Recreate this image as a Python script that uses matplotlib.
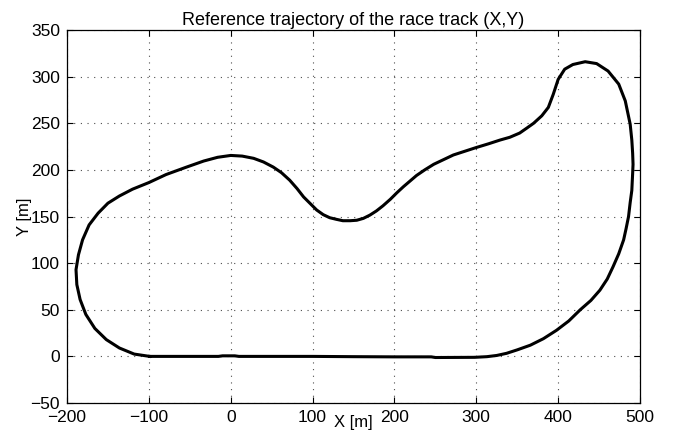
"""Reference trajectory of the race track, drawn in the MATLAB look."""

import matplotlib
matplotlib.use("Agg")
from matplotlib import pyplot as plt

# Track centre line, starting on the bottom straight.
# Ten points per row, same rows in both lists.
track_x = [-99, -60, -15, -10, 5, 10, 60, 100, 150, 200,
           245, 250, 298, 313, 325, 337, 350, 366, 382, 398,
           413, 427, 440, 451, 460, 467, 474, 480, 483, 486,
           488, 490, 491, 491.5, 491, 490, 488, 482, 474, 461,
           447, 433, 418, 408, 400, 394, 388, 380, 370, 362,
           353, 341, 329, 315, 300, 286, 272, 260, 248, 237,
           227, 219, 211, 203, 195, 186, 178, 170, 162, 154,
           146, 137, 129, 121, 113, 105, 97, 89, 81, 72,
           62, 52, 40, 28, 14, 0, -16, -33, -54, -79,
           -100, -120, -136, -150, -162, -173, -181, -186, -189, -188,
           -184, -177, -166, -152, -136, -118, -99]
track_y = [0, 0, 0, 0.6, 0.6, 0, 0, 0, -0.3, -0.5,
           -0.5, -1.2, -1, -0.3, 1, 3.3, 7, 12, 19, 28,
           38, 50, 60, 71, 83, 96, 110, 125, 137, 150,
           165, 178, 196, 206, 218, 232, 249, 274, 292, 306,
           314, 316, 313, 308, 297, 281, 267, 258, 250, 245,
           239.5, 235, 232, 228, 224, 220, 216, 211, 206, 200,
           194, 188, 182, 175.5, 168.5, 161.5, 156, 151.5, 148, 146,
           145.5, 145.5, 147, 148.7, 152, 157, 164, 171, 180, 189,
           197, 203, 208.5, 212.4, 214.8, 215.5, 213.5, 209.5, 203, 195,
           186.4, 179.3, 172, 164.3, 153.6, 141, 125, 109, 93, 77,
           61, 45, 30, 18, 9, 2.5, 0]

x_ticks = [-200, -100, 0, 100, 200, 300, 400, 500]
y_ticks = [-50, 0, 50, 100, 150, 200, 250, 300, 350]

plt.rcParams["font.family"] = ["Liberation Sans", "DejaVu Sans"]

fig = plt.figure(figsize=(6.81, 4.44), dpi=100)
axes = fig.add_axes([0.0984, 0.0923, 0.8414, 0.8401])
axes.plot(track_x, track_y, color="black", linewidth=2.2,
          solid_joinstyle="round")

axes.set_xlim(-200, 500)
axes.set_ylim(-50, 350)
axes.set_xticks(x_ticks)
axes.set_yticks(y_ticks)
axes.tick_params(direction="in", top=True, right=True, length=4,
                 width=0.8, labelsize=12.5, pad=5)
axes.grid(True, linestyle=(0, (1, 5)), color="0.3", linewidth=0.8)
for spine in axes.spines.values():
    spine.set_linewidth(0.9)

axes.set_xlabel("X [m]", fontsize=12, labelpad=-7)
axes.set_ylabel("Y [m]", fontsize=12, labelpad=-1)
axes.set_title("Reference trajectory of the race track (X,Y)", fontsize=13,
               pad=3.5)

fig.savefig("out.png", dpi=100)
